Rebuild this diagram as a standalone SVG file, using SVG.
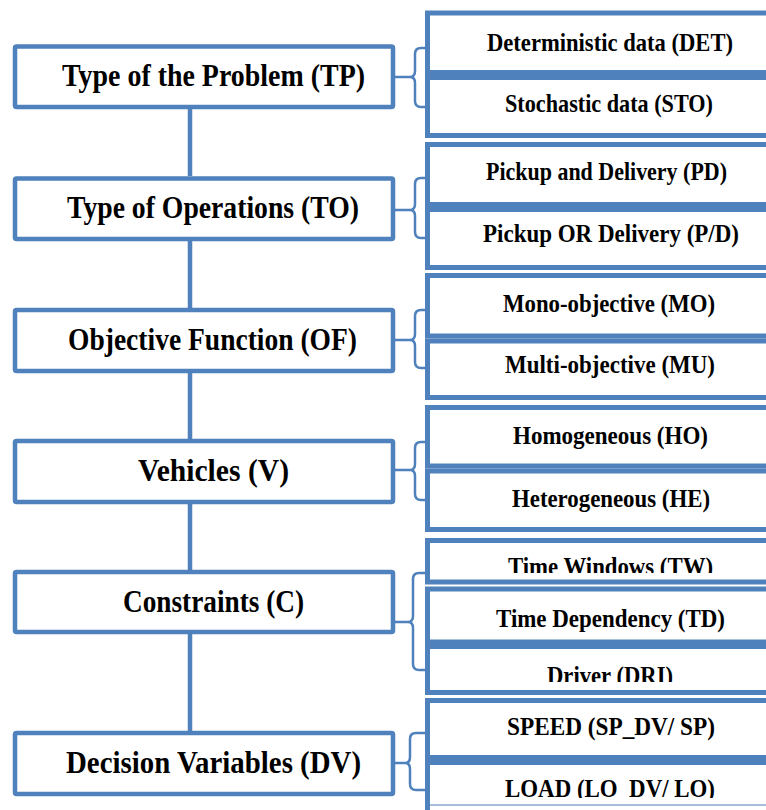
<svg xmlns="http://www.w3.org/2000/svg" width="766" height="810" viewBox="0 0 766 810">
<style>
.lb{fill:#fff;stroke:#4f81bd;stroke-width:4.5}
.rf{fill:#fff;stroke:none}
.rs{fill:none;stroke:#4f81bd;stroke-width:5}
.lt{font-family:"Liberation Serif","Times New Roman",serif;font-weight:bold;font-size:31px;fill:#000;text-anchor:middle}
.rt{font-family:"Liberation Serif","Times New Roman",serif;font-weight:bold;font-size:26px;fill:#000;text-anchor:middle}
.vc{stroke:#4f81bd;stroke-width:4.5;fill:none}
.br{stroke:#4f81bd;stroke-width:2.5;fill:none}
</style>
<defs>
<clipPath id="cTW"><rect x="427" y="540" width="339" height="33"/></clipPath>
<clipPath id="cDRI"><rect x="427" y="646" width="339" height="36"/></clipPath>
<clipPath id="cLO"><rect x="427" y="762" width="339" height="36"/></clipPath>
</defs>
<rect width="766" height="810" fill="#fff"/>
<g id="connectors">
<path class="vc" d="M190 109V176M190 241V308M190 373V439M190 504V570M190 634V731"/>
<path class="br" d="M395 77H410Q415 77 415 71V54Q415 48 421 48H435M410 77Q415 77 415 83V101Q415 107 421 107H435"/>
<path class="br" d="M395 210H410Q415 210 415 204V184Q415 178 421 178H435M410 210Q415 210 415 216V232Q415 238 421 238H435"/>
<path class="br" d="M395 340H410Q415 340 415 334V316Q415 310 421 310H435M410 340Q415 340 415 346V362Q415 368 421 368H435"/>
<path class="br" d="M395 470H410Q415 470 415 464V448Q415 442 421 442H435M410 470Q415 470 415 476V494Q415 500 421 500H435"/>
<path class="br" d="M395 622H408Q413 622 413 616V579Q413 573 419 573H432M408 622Q413 622 413 628V664Q413 670 419 670H432"/>
<path class="br" d="M395 763H405Q410 763 410 757V739Q410 733 416 733H430M405 763Q410 763 410 769V784Q410 790 416 790H430"/>
</g>
<g id="TP"><rect class="lb" x="15" y="46.5" width="378" height="60.5" rx="1.5"/><text class="lt" x="213.5" y="86" textLength="303" lengthAdjust="spacingAndGlyphs">Type of the Problem (TP)</text></g>
<g id="TO"><rect class="lb" x="15" y="178.5" width="378" height="60.5" rx="1.5"/><text class="lt" x="213" y="218" textLength="292" lengthAdjust="spacingAndGlyphs">Type of Operations (TO)</text></g>
<g id="OF"><rect class="lb" x="15" y="310" width="378" height="61" rx="1.5"/><text class="lt" x="212.5" y="350" textLength="289" lengthAdjust="spacingAndGlyphs">Objective Function (OF)</text></g>
<g id="V"><rect class="lb" x="15" y="441" width="378" height="61" rx="1.5"/><text class="lt" x="213.5" y="481" textLength="151" lengthAdjust="spacingAndGlyphs">Vehicles (V)</text></g>
<g id="C"><rect class="lb" x="15" y="572" width="378" height="60" rx="1.5"/><text class="lt" x="213.5" y="611.5" textLength="181" lengthAdjust="spacingAndGlyphs">Constraints (C)</text></g>
<g id="DV"><rect class="lb" x="15" y="733" width="378" height="61" rx="1.5"/><text class="lt" x="213.5" y="773" textLength="295" lengthAdjust="spacingAndGlyphs">Decision Variables (DV)</text></g>
<g id="DET"><rect class="rf" x="427.5" y="13" width="338.5" height="59.5"/><path class="rs" d="M766 13H427.5V72.5H766"/><text class="rt" x="610" y="51" textLength="246" lengthAdjust="spacingAndGlyphs">Deterministic data (DET)</text></g>
<g id="STO"><rect class="rf" x="427.5" y="77.5" width="338.5" height="58"/><path class="rs" d="M766 77.5H427.5V135.5H766"/><text class="rt" x="609" y="112" textLength="208" lengthAdjust="spacingAndGlyphs">Stochastic data (STO)</text></g>
<g id="PD"><rect class="rf" x="427.5" y="144.5" width="338.5" height="60"/><path class="rs" d="M766 144.5H427.5V204.5H766"/><text class="rt" x="606.5" y="180" textLength="241" lengthAdjust="spacingAndGlyphs">Pickup and Delivery (PD)</text></g>
<g id="P_D"><rect class="rf" x="427.5" y="209.5" width="338.5" height="58"/><path class="rs" d="M766 209.5H427.5V267.5H766"/><text class="rt" x="611" y="242" textLength="256" lengthAdjust="spacingAndGlyphs">Pickup OR Delivery (P/D)</text></g>
<g id="MO"><rect class="rf" x="427.5" y="275.5" width="338.5" height="60.5"/><path class="rs" d="M766 275.5H427.5V336H766"/><text class="rt" x="609" y="312" textLength="212" lengthAdjust="spacingAndGlyphs">Mono-objective (MO)</text></g>
<g id="MU"><rect class="rf" x="427.5" y="341" width="338.5" height="56.5"/><path class="rs" d="M766 341H427.5V397.5H766"/><text class="rt" x="610" y="373" textLength="210" lengthAdjust="spacingAndGlyphs">Multi-objective (MU)</text></g>
<g id="HO"><rect class="rf" x="427.5" y="407.5" width="338.5" height="58.5"/><path class="rs" d="M766 407.5H427.5V466H766"/><text class="rt" x="610.5" y="444" textLength="195" lengthAdjust="spacingAndGlyphs">Homogeneous (HO)</text></g>
<g id="HE"><rect class="rf" x="427.5" y="471" width="338.5" height="58.5"/><path class="rs" d="M766 471H427.5V529.5H766"/><text class="rt" x="611" y="507" textLength="198" lengthAdjust="spacingAndGlyphs">Heterogeneous (HE)</text></g>
<g id="TW"><rect class="rf" x="427.5" y="540.5" width="338.5" height="41.5"/><path class="rs" d="M766 540.5H427.5V582H766"/><text class="rt" x="610.5" y="575" textLength="205" lengthAdjust="spacingAndGlyphs" clip-path="url(#cTW)">Time Windows (TW)</text></g>
<g id="TD"><rect class="rf" x="427.5" y="589" width="338.5" height="53"/><path class="rs" d="M766 589H427.5V642H766"/><text class="rt" x="610.5" y="627" textLength="229" lengthAdjust="spacingAndGlyphs">Time Dependency (TD)</text></g>
<g id="DRI"><rect class="rf" x="427.5" y="646.5" width="338.5" height="46"/><path class="rs" d="M766 646.5H427.5V692.5H766"/><text class="rt" x="610" y="684" textLength="126" lengthAdjust="spacingAndGlyphs" clip-path="url(#cDRI)">Driver (DRI)</text></g>
<g id="SP"><rect class="rf" x="427.5" y="700.5" width="338.5" height="57"/><path class="rs" d="M766 700.5H427.5V757.5H766"/><text class="rt" x="611" y="735" textLength="208" lengthAdjust="spacingAndGlyphs">SPEED (SP_DV/ SP)</text></g>
<g id="LO"><rect class="rf" x="427.5" y="762.5" width="338.5" height="42"/><path class="rs" d="M766 762.5H427.5V810"/><line x1="430" y1="805" x2="766" y2="805" stroke="#a7bedb" stroke-width="2"/><text class="rt" x="610" y="797" textLength="210" lengthAdjust="spacingAndGlyphs" clip-path="url(#cLO)">LOAD (LO_DV/ LO)</text></g>
</svg>
